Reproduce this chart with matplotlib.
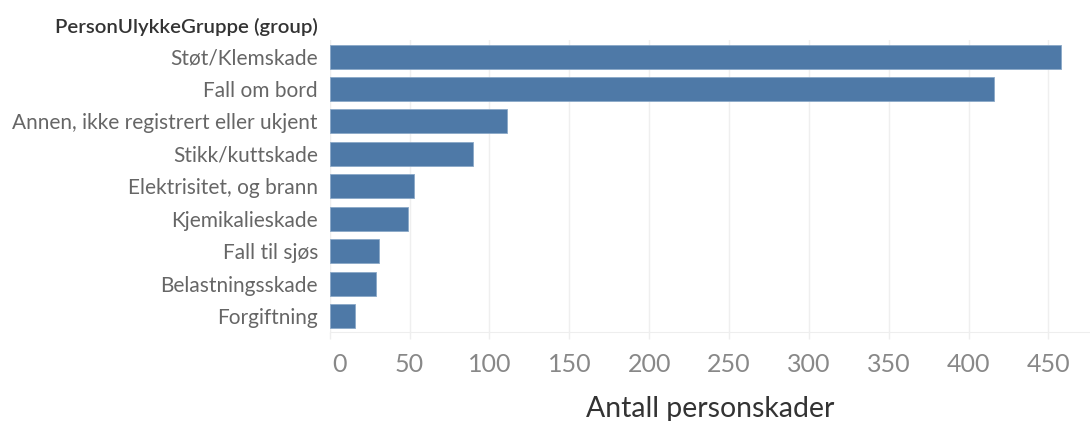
import matplotlib.pyplot as plt
from matplotlib.transforms import ScaledTranslation

categories = [
    "Støt/Klemskade",
    "Fall om bord",
    "Annen, ikke registrert eller ukjent",
    "Stikk/kuttskade",
    "Elektrisitet, og brann",
    "Kjemikalieskade",
    "Fall til sjøs",
    "Belastningsskade",
    "Forgiftning",
]
values = [458, 416, 111, 90, 53, 49, 31, 29, 16]
x_ticks = [0, 50, 100, 150, 200, 250, 300, 350, 400, 450]

plt.rcParams["font.family"] = ["Lato", "DejaVu Sans"]

fig = plt.figure(figsize=(10.9, 4.21), dpi=100)
ax = fig.add_axes([329.7 / 1090, 88.7 / 421, 1 - 329.7 / 1090, 292 / 421])

ypos = list(range(len(categories)))
ax.barh(ypos, values, height=0.74, color="#4e79a7", edgecolor="#8aa8c8",
        linewidth=0.6, zorder=3)
ax.set_ylim(len(categories) - 0.5, -0.5)
ax.set_xlim(0, 476)

ax.set_yticks(ypos)
ax.set_yticklabels(categories, fontsize=15, color="#666666")
ax.tick_params(axis="y", length=0, pad=8.5)

ax.set_xticks(x_ticks)
ax.set_xticklabels([str(t) for t in x_ticks], fontsize=18, color="#888888")
ax.tick_params(axis="x", length=5, width=1, color="#eeeeee", pad=10)
# Tableau nudges the first label inwards
first = ax.get_xticklabels()[0]
first.set_transform(first.get_transform() + ScaledTranslation(10 / 100, 0, fig.dpi_scale_trans))

ax.grid(axis="x", color="#efefef", linewidth=1, zorder=0)
for side in ["top", "right", "left"]:
    ax.spines[side].set_visible(False)
ax.spines["bottom"].set_color("#eeeeee")

ax.set_xlabel("Antall personskader", fontsize=20.4, color="#333333", labelpad=14)

fig.text(318 / 1090, 1 - 27 / 421, "PersonUlykkeGruppe (group)", ha="right",
         va="center", fontsize=14.7, fontweight="semibold", color="#333333")

fig.savefig("out.png", dpi=100)
